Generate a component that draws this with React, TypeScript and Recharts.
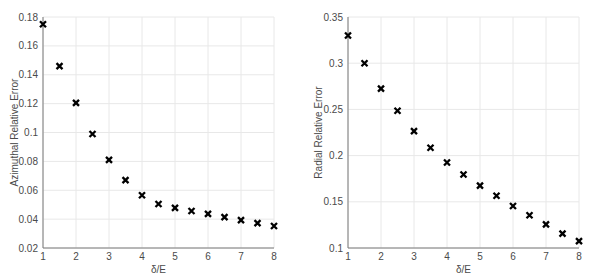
import { ScatterChart, Scatter, XAxis, YAxis, CartesianGrid, Label } from "recharts";

const deltaOverE = [1, 1.5, 2, 2.5, 3, 3.5, 4, 4.5, 5, 5.5, 6, 6.5, 7, 7.5, 8];
const azimuthalError = [
  0.175, 0.146, 0.1205, 0.099, 0.081, 0.067, 0.0565, 0.0505, 0.0478, 0.0456, 0.0436, 0.0414,
  0.0393, 0.0372, 0.0352,
];
const radialError = [
  0.33, 0.3, 0.2725, 0.2485, 0.2265, 0.2085, 0.1925, 0.1795, 0.1675, 0.1565, 0.1455, 0.1355,
  0.1255, 0.1155, 0.1075,
];
const xTicks = [1, 2, 3, 4, 5, 6, 7, 8];
const azimuthalTicks = [0.02, 0.04, 0.06, 0.08, 0.1, 0.12, 0.14, 0.16, 0.18];
const radialTicks = [0.1, 0.15, 0.2, 0.25, 0.3, 0.35];

const FONT = "'Liberation Sans', Arial, Helvetica, sans-serif";
const TICK = { fontSize: 10, fill: "#4a4a4a", fontFamily: FONT };
const AXIS = { stroke: "#7a7a7a" };

function Cross({ cx, cy }: { cx?: number; cy?: number }) {
  if (cx == null || cy == null) return null;
  const s = 3;
  return (
    <path
      d={`M${cx - s},${cy - s}L${cx + s},${cy + s}M${cx + s},${cy - s}L${cx - s},${cy + s}`}
      stroke="#000"
      strokeWidth={2.3}
      fill="none"
    />
  );
}

const fmt = (v: number) => String(+v.toFixed(2));

interface PanelProps {
  values: number[];
  ticks: number[];
  yLabel: string;
  width: number;
  yAxisWidth: number;
  rightMargin: number;
  labelX: number;
}

function Panel({ values, ticks, yLabel, width, yAxisWidth, rightMargin, labelX }: PanelProps) {
  const data = deltaOverE.map((x, i) => ({ x, y: values[i] }));
  return (
    <ScatterChart
      width={width}
      height={278}
      margin={{ top: 17, right: rightMargin, left: 0, bottom: 0 }}
      style={{ fontFamily: FONT }}
    >
      <CartesianGrid stroke="#e8e8e8" />
      <XAxis
        type="number"
        dataKey="x"
        domain={[1, 8]}
        ticks={xTicks}
        tick={TICK}
        tickLine={false}
        tickSize={0}
        tickMargin={5}
        axisLine={AXIS}
        height={30}
      >
        <Label
          content={({ viewBox }: any) => (
            <text
              x={viewBox.x + viewBox.width / 2}
              y={viewBox.y + 25}
              textAnchor="middle"
              fontSize={10}
              fill="#4a4a4a"
              fontFamily={FONT}
            >
              δ/E
            </text>
          )}
        />
      </XAxis>
      <YAxis
        type="number"
        dataKey="y"
        domain={[ticks[0], ticks[ticks.length - 1]]}
        ticks={ticks}
        tickFormatter={fmt}
        tick={TICK}
        tickLine={false}
        tickSize={0}
        tickMargin={5}
        axisLine={AXIS}
        width={yAxisWidth}
      >
        <Label
          content={({ viewBox }: any) => {
            const x = viewBox.x + labelX;
            const y = viewBox.y + viewBox.height / 2;
            return (
              <text
                x={x}
                y={y}
                transform={`rotate(-90 ${x} ${y})`}
                textAnchor="middle"
                dominantBaseline="central"
                fontSize={10}
                fill="#4a4a4a"
                fontFamily={FONT}
              >
                {yLabel}
              </text>
            );
          }}
        />
      </YAxis>
      <Scatter data={data} shape={<Cross />} isAnimationActive={false} />
    </ScatterChart>
  );
}

export default function App() {
  return (
    <div style={{ position: "absolute", left: 0, top: 0, width: 598, height: 278, background: "#fff" }}>
      <div style={{ position: "absolute", left: 0, top: 0 }}>
        <Panel
          values={azimuthalError}
          ticks={azimuthalTicks}
          yLabel="Azimuthal Relative Error"
          width={300}
          yAxisWidth={43}
          rightMargin={26}
          labelX={14}
        />
      </div>
      <div style={{ position: "absolute", left: 300, top: 0 }}>
        <Panel
          values={radialError}
          ticks={radialTicks}
          yLabel="Radial Relative Error"
          width={298}
          yAxisWidth={48}
          rightMargin={19}
          labelX={18}
        />
      </div>
    </div>
  );
}
